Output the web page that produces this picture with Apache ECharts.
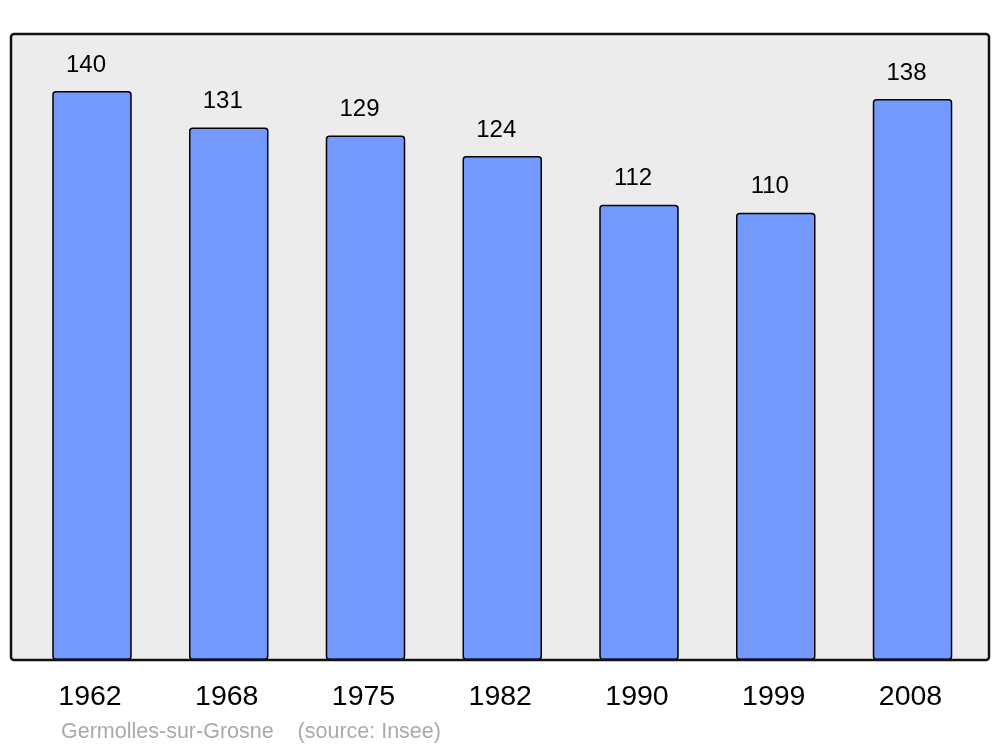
<!DOCTYPE html>
<html><head><meta charset="utf-8">
<script src="https://cdn.jsdelivr.net/npm/echarts@6/dist/echarts.min.js"></script>
<style>html,body{margin:0;padding:0;background:#fff}#c{width:1000px;height:747px}</style>
</head><body><div id="c"></div>
<script>
var years = ['1962','1968','1975','1982','1990','1999','2008'];
var population = [140,131,129,124,112,110,138];
var sourceText = 'Germolles-sur-Grosne    (source: Insee)';

var chart = echarts.init(document.getElementById('c'), null, {renderer:'canvas'});
var FONT = '"Liberation Sans", Arial, sans-serif';
chart.setOption({
  animation:false,
  backgroundColor:'#ffffff',
  grid:{left:23.6, right:19.1, top:34, bottom:87, containLabel:false},
  xAxis:{type:'category', data:years, boundaryGap:true,
    axisLine:{show:false}, axisTick:{show:false}, splitLine:{show:false},
    axisLabel:{color:'#000', fontSize:28.5, fontFamily:FONT, margin:23, padding:[0,4,0,0]}},
  yAxis:{type:'value', min:0, max:154, show:false, splitLine:{show:false}},
  graphic:[
    {type:'rect', z:-10, shape:{x:11,y:34,width:978,height:626,r:3}, style:{fill:'#ececec', stroke:null}},
    {type:'rect', z:100, shape:{x:11,y:34,width:978,height:626,r:3}, style:{fill:'none', stroke:'#111', lineWidth:2.5}},
    {type:'text', left:61, top:721, style:{text:sourceText, fill:'#aaaaaa', font:'21.5px "Liberation Sans", Arial, sans-serif'}}
  ],
  series:[{type:'bar', data:population, barWidth:79.5,
    itemStyle:{color:'#7399ff', borderColor:'#000', borderWidth:1.5, borderRadius:3},
    label:{show:true, position:'top', distance:14, color:'#000', fontSize:24, fontFamily:FONT, offset:[-6,0]}
  }]
});
</script></body></html>
